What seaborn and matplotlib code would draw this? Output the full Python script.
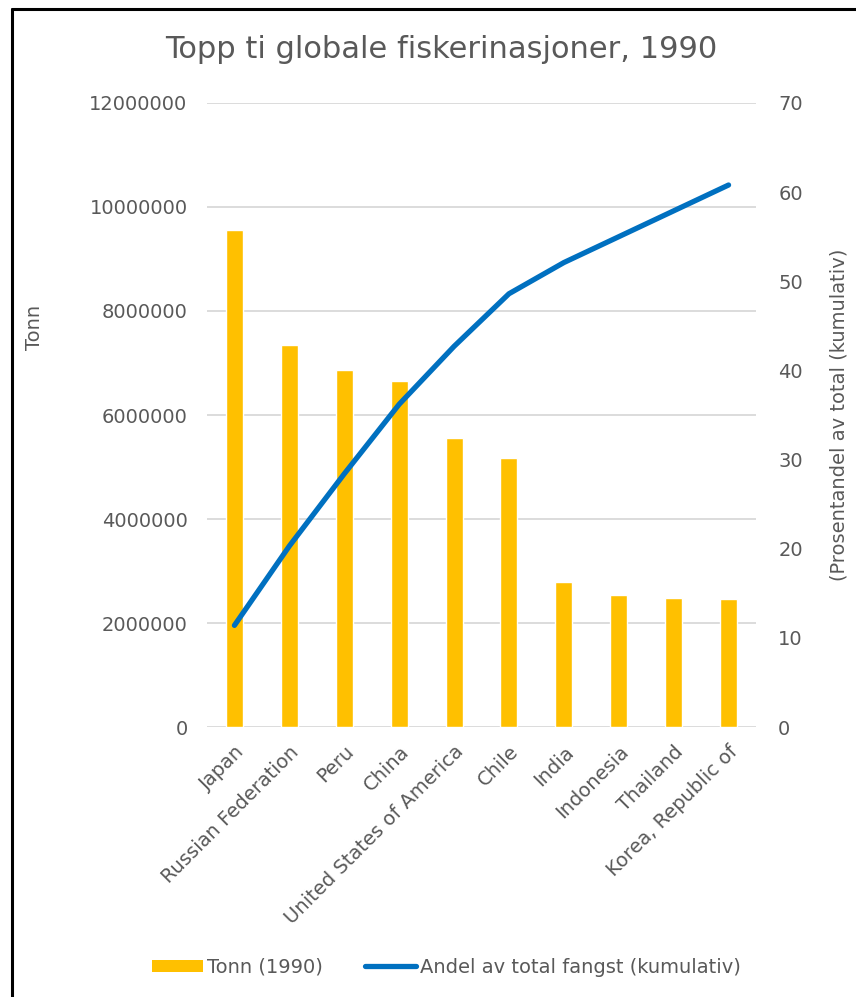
import numpy as np
import pandas as pd
import matplotlib
matplotlib.use("Agg")
import matplotlib.pyplot as plt
from matplotlib.lines import Line2D
from matplotlib.patches import Patch
import seaborn as sns

# data
land = ['Japan', 'Russian Federation', 'Peru', 'China', 'United States of America',
        'Chile', 'India', 'Indonesia', 'Thailand', 'Korea, Republic of']
tonn = [9560000, 7350000, 6860000, 6660000, 5550000, 5170000, 2780000, 2530000, 2490000, 2470000]
andel_kum = [11.4, 20.3, 28.4, 36.2, 42.7, 48.6, 52.1, 55.0, 57.9, 60.8]

df = pd.DataFrame({'land': land, 'tonn': tonn, 'andel': andel_kum})

sns.set_style("white")
plt.rcParams['font.family'] = ['DejaVu Sans']
grå = '#595959'
gull = '#FFC000'
blå = '#0070C0'

fig = plt.figure(figsize=(8.56, 9.97), dpi=100)
ax = fig.add_axes([0.2418, 0.2708, 0.6414, 0.6259])

sns.barplot(data=df, x='land', y='tonn', color=gull, width=0.31, saturation=1, ax=ax, zorder=2)
ax.set_ylim(0, 12000000)
ax.set_yticks(np.arange(0, 12000001, 2000000))
ax.set_yticklabels([str(v) for v in range(0, 12000001, 2000000)])
ax.set_xlim(-0.5, len(land) - 0.5)
ax.grid(axis='y', color='#D9D9D9', lw=1.3, zorder=0)
ax.set_axisbelow(True)
for s in ax.spines.values():
    s.set_visible(False)
ax.tick_params(axis='y', colors=grå, labelsize=14, length=0, pad=14)
ax.tick_params(axis='x', colors=grå, labelsize=14, length=0, pad=11)
plt.setp(ax.get_xticklabels(), rotation=45, ha='right', rotation_mode='anchor')
ax.set_xlabel('')
ax.set_ylabel('Tonn', color=grå, fontsize=14)
ax.yaxis.set_label_coords((44 - 207) / 549, (727 - 327) / 624)

ax2 = ax.twinx()
sns.lineplot(data=df, x='land', y='andel', sort=False, color=blå, lw=3.8,
             solid_capstyle='round', ax=ax2, zorder=3)
ax2.set_ylim(0, 70)
ax2.set_yticks(np.arange(0, 71, 10))
ax2.set_xlim(-0.5, len(land) - 0.5)
for s in ax2.spines.values():
    s.set_visible(False)
ax2.tick_params(axis='y', colors=grå, labelsize=14, length=0, pad=16)
ax2.set_ylabel('(Prosentandel av total (kumulativ)', color=grå, fontsize=14)
ax2.yaxis.set_label_coords((829 - 207) / 549, 0.5)

fig.text(0.516, 0.95, 'Topp ti globale fiskerinasjoner, 1990', ha='center', va='center',
         color=grå, fontsize=22)

handles = [Patch(facecolor=gull, edgecolor='none'),
           Line2D([0], [0], color=blå, lw=3.8, solid_capstyle='round')]
fig.legend(handles, ['Tonn (1990)', 'Andel av total fangst (kumulativ)'],
           loc='center', bbox_to_anchor=(0.5216, 0.03), ncol=2, frameon=False,
           fontsize=14, labelcolor=grå, handlelength=2.6, handletextpad=0.2,
           columnspacing=2.2, handleheight=0.6)

# ramme oppe og til venstre
fig.add_artist(Line2D([0.014, 0.014], [0, 0.991], color='black', lw=2.2))
fig.add_artist(Line2D([0.014, 1], [0.991, 0.991], color='black', lw=2.2))

fig.savefig('out.png', dpi=100)
